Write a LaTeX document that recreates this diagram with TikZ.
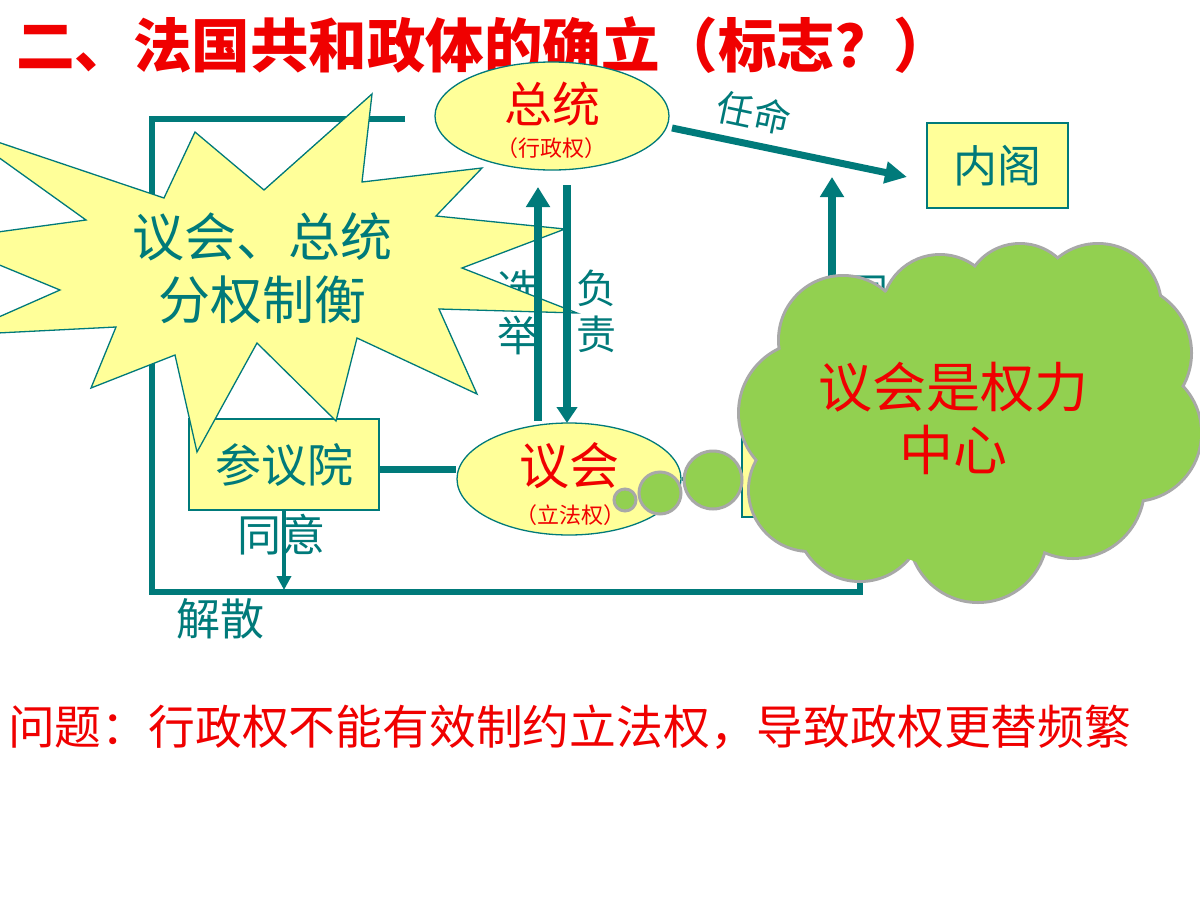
\documentclass[tikz,border=0pt]{standalone}
\usepackage{fontspec}
\setmainfont{Noto Sans CJK SC}
\usetikzlibrary{arrows.meta,shapes.geometric,calc}
\definecolor{tl}{RGB}{0,122,122}
\definecolor{ylw}{RGB}{255,255,153}
\definecolor{grn}{RGB}{146,208,80}
\definecolor{gry}{RGB}{168,168,168}
\definecolor{rd}{RGB}{240,0,0}
\tikzset{
  fs/.style={font=\fontsize{#1}{#1}\selectfont},
  lbl/.style={text=tl, inner sep=0pt, align=center},
  rlbl/.style={text=rd, inner sep=0pt, align=center},
  ybox/.style={draw=tl, fill=ylw, line width=1.3pt, inner sep=0pt},
  yell/.style={ellipse, draw=tl, fill=ylw, line width=1.3pt, inner sep=0pt},
  bigarrow/.style={draw=tl, line width=8pt, -{Triangle[length=20pt,width=23pt]}},
  thinarrow/.style={draw=tl, line width=3.5pt, -{Triangle[length=14pt,width=14pt]}},
  frameline/.style={draw=tl, line width=5.5pt, line join=miter},
  bubble/.style={draw=gry, line width=3pt, fill=grn},
}
\begin{document}
\begin{tikzpicture}[x=1pt,y=-1pt]
\useasboundingbox (0,0) rectangle (1200,900);
\clip (0,0) rectangle (1200,900);
\fill[white] (0,0) rectangle (1200,900);

% title
\node[rlbl, font=\fontsize{58.5}{58.5}\selectfont\bfseries, anchor=west] (title) at (16,45) {二、法国共和政体的确立（标志？）};

% frame
\coordinate (fA) at (405,119);
\coordinate (fB) at (152,592);
\coordinate (fC) at (860,578);
\draw[frameline] (fA) -| (fB) -| (fC);

% boxes
\node[ybox, minimum width=141pt, minimum height=85pt] (nk) at (997.5,165.5) {};
\node[lbl, fs=44] (nkt) at (nk) {内阁};
\node[ybox, minimum width=190pt, minimum height=91pt] (cy) at (284,464.5) {};
\node[lbl, fs=46] (cyt) at (cy) {参议院};
\node[ybox, minimum width=180pt, minimum height=89pt] (hb) at (832,472.5) {};

% ellipses
\node[yell, minimum width=234pt, minimum height=108pt] (zt) at (552,116) {};
\node[rlbl, fs=48] (ztt) at (552,104) {总统};
\node[rlbl, fs=22] (ztp) at (551,148) {（行政权）};
\node[yell, minimum width=224pt, minimum height=112pt] (yh) at (569,479) {};
\node[rlbl, fs=50] (yht) at (569,466) {议会};
\node[rlbl, fs=22] (yhp) at (570,515) {（立法权）};

% connectors
\coordinate (lnY) at (0,469);
\draw[draw=tl, line width=7pt] (cy.east |- lnY) -- (yh.west |- lnY);
\draw[draw=tl, line width=4pt] (yh.east) -- (yh.east -| hb.west);
\coordinate (tyEnd) at (284,590);
\draw[thinarrow] (cy.south) -- (tyEnd);
\coordinate (rmA) at (672,128);
\coordinate (rmB) at (907,177);
\draw[draw=tl, line width=7pt, -{Triangle[length=22pt,width=21pt]}] (rmA) -- (rmB);
\coordinate (nkIn) at (832,177);
\draw[bigarrow] (hb.north) -- (nkIn);

% labels
\node[lbl, fs=37, rotate=-12] (rm) at (754,113) {任命};
\node[lbl, font=\fontsize{42}{46}\selectfont] (xj) at (518,313) {选\\举};
\node[lbl, font=\fontsize{40}{46}\selectfont] (fz) at (596,311) {负\\责};
\node[lbl, fs=44] (ty) at (281,535) {同意};
\node[lbl, fs=44] (js) at (220,619) {解散};
\node[lbl, fs=40] (ty2) at (868,293) {同};

% star
\draw[fill=ylw, draw=tl, line width=1.3pt, line join=miter]
  (372,94) -- (362,182) -- (482,168) -- (436,216) -- (565,229) -- (462,268)
  -- (577,313) -- (439,309) -- (477,394) -- (357,338) -- (336,421) -- (257,343)
  -- (197,452) -- (175,355) -- (91,388) -- (116,327) -- (-42,335) -- (60,290)
  -- (-61,240) -- (86,220) -- (-41,129) -- (164,198) -- (195,132) -- (264,190) -- cycle;
\node[lbl, font=\fontsize{52}{63}\selectfont] (st) at (262,268) {议会、总统\\分权制衡};

% vertical arrows between zt and yh
\coordinate (xjA) at (538,421);
\coordinate (xjB) at (538,187);
\coordinate (fzA) at (567,185);
\coordinate (fzB) at (567,423);
\draw[bigarrow] (xjA) -- (xjB);
\draw[draw=tl, line width=8pt, -{Triangle[length=16pt,width=20pt]}] (fzA) -- (fzB);

% thought bubbles
\node[bubble, circle, minimum size=22pt, inner sep=0pt] (b1) at (625,500) {};
\node[bubble, circle, minimum size=42pt, inner sep=0pt] (b2) at (660,493) {};
\node[bubble, circle, minimum size=58pt, inner sep=0pt] (b3) at (713,480) {};

% cloud
\def\cloudlist{843/340/63, 940/313/57, 1020/300/55, 1098/307/62, 1123/353/67, 1133/433/67, 1073/487/70, 978/533/68, 860/517/63, 810/490/60, 810/413/70}
\foreach \cx/\cy/\r in \cloudlist { \draw[draw=gry, line width=6pt, fill=grn] (\cx,\cy) circle (\r); }
\foreach \cx/\cy/\r in \cloudlist { \fill[grn] (\cx,\cy) circle (\r); }
\fill[grn] (965,420) circle (150);
\node[rlbl, font=\fontsize{54}{63}\selectfont] (cl) at (953,418) {议会是权力\\中心};

% bottom text
\node[rlbl, fs=46.8, anchor=west] (q) at (8,727) {问题：行政权不能有效制约立法权，导致政权更替频繁};
\end{tikzpicture}
\end{document}
